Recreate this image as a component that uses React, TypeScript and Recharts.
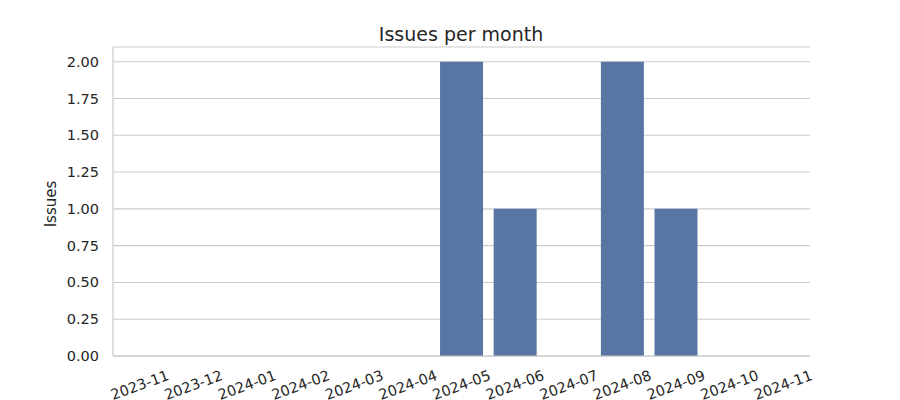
import React from "react";
import { BarChart, Bar, XAxis, YAxis, CartesianGrid } from "recharts";

const months = [
  "2023-11", "2023-12", "2024-01", "2024-02", "2024-03", "2024-04", "2024-05",
  "2024-06", "2024-07", "2024-08", "2024-09", "2024-10", "2024-11",
];
const issues = [0, 0, 0, 0, 0, 0, 2, 1, 0, 2, 1, 0, 0];
const yTicks = [0, 0.25, 0.5, 0.75, 1, 1.25, 1.5, 1.75, 2];

const data = months.map((m, i) => ({ month: m, issues: issues[i] }));

const FONT = "DejaVu Sans, sans-serif";
const TEXT = "#262626";

const XTick = (props: any) => {
  const { x, y, payload } = props;
  const cy = y + 27;
  return (
    <text
      x={x}
      y={cy}
      textAnchor="middle"
      dominantBaseline="central"
      transform={`rotate(-20, ${x}, ${cy})`}
      fontFamily={FONT}
      fontSize={14.5}
      fill={TEXT}
    >
      {payload.value}
    </text>
  );
};

const YTick = (props: any) => {
  const { x, y, payload } = props;
  return (
    <text
      x={x}
      y={y}
      textAnchor="end"
      dominantBaseline="central"
      fontFamily={FONT}
      fontSize={14.5}
      fill={TEXT}
    >
      {Number(payload.value).toFixed(2)}
    </text>
  );
};

export default function App() {
  return (
    <div style={{ width: 892, height: 392, position: "relative" }}>
      <BarChart
        width={892}
        height={392}
        data={data}
        margin={{ top: 39, right: 90, bottom: 0, left: 0 }}
        barCategoryGap="10%"
      >
        <text
          x={453}
          y={26}
          textAnchor="middle"
          dominantBaseline="central"
          fontFamily={FONT}
          fontSize={19}
          fill={TEXT}
        >
          Issues per month
        </text>
        <text
          x={43}
          y={196}
          textAnchor="middle"
          dominantBaseline="central"
          transform="rotate(-90, 43, 196)"
          fontFamily={FONT}
          fontSize={15}
          fill={TEXT}
        >
          Issues
        </text>
        <CartesianGrid vertical={false} stroke="#cccccc" strokeWidth={1.1} />
        <XAxis
          dataKey="month"
          height={44}
          interval={0}
          tickLine={false}
          tickSize={0}
          axisLine={{ stroke: "#cccccc", strokeWidth: 1.25 }}
          tick={<XTick />}
        />
        <YAxis
          width={105}
          domain={[0, 2.1]}
          ticks={yTicks}
          allowDataOverflow
          tickLine={false}
          tickSize={0}
          tickMargin={14}
          axisLine={{ stroke: "#cccccc", strokeWidth: 1.25 }}
          tick={<YTick />}
        />
        <Bar dataKey="issues" fill="#5975a4" isAnimationActive={false} />
      </BarChart>
    </div>
  );
}
